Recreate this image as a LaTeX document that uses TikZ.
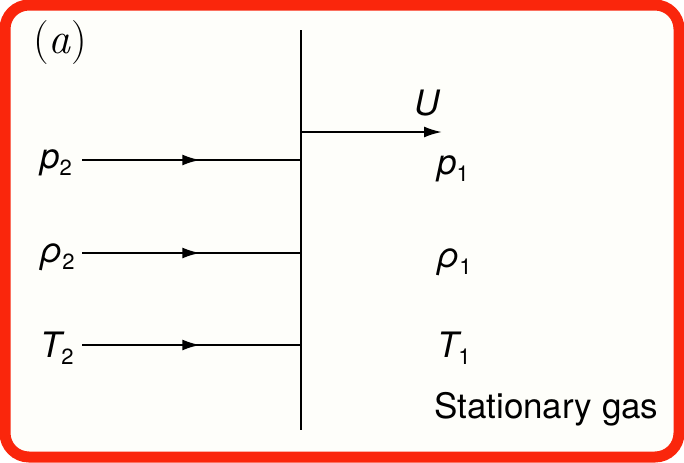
\documentclass[tikz,border=0pt]{standalone}
\usepackage{fontspec}
\setsansfont{TeX Gyre Heros}
\usetikzlibrary{arrows.meta,decorations.markings}
\definecolor{frame}{RGB}{250,38,12}
\definecolor{paper}{RGB}{254,254,250}
\newcommand{\lowsub}[1]{\raisebox{-0.22em}{\fontsize{11}{12}\selectfont\upshape #1}}
\begin{document}
\begin{tikzpicture}[x=0.5pt,y=-0.5pt,
  line width=1.1pt,
  tip/.style={-{Latex[length=9pt,width=5.5pt]}},
  sym/.style={anchor=base west, inner sep=0pt,
    font=\sffamily\fontsize{17.5}{21}\selectfont\itshape},
  plain/.style={anchor=base west, inner sep=0pt,
    font=\sffamily\fontsize{17.5}{21}\selectfont},
  flow/.style={postaction={decorate},
    decoration={markings,
      mark=at position 0.54 with {\arrow{Latex[length=9pt,width=5.5pt]}}}}]
  \useasboundingbox (0,0) rectangle (684,462);
  \fill[paper, rounded corners=12] (5,5) rectangle (679,457);
  \draw[frame, line width=5.5pt, rounded corners=12] (5,5) rectangle (679,457);

  \node[anchor=base west, inner sep=0pt, font=\fontsize{22}{26}\selectfont]
    (tag) at (32,53) {(\textit{a})};

  \coordinate (wtop) at (301,30);
  \coordinate (wbot) at (301,430);
  \draw (wtop) -- (wbot);

  \coordinate (w0) at (301,132);
  \coordinate (uend) at (442,132);
  \draw[tip] (w0) -- (uend);
  \node[sym] (U) at (413,115) {U};

  \foreach \y/\n in {160/1, 253/2, 345/3} {
    \coordinate (in\n) at (82,\y);
    \coordinate (w\n) at (301,\y);
    \draw[flow] (in\n) -- (w\n);
  }

  \node[sym] (p2) at (39,168) {p\lowsub{2}};
  \node[sym] (rho2) at (39,262) {ρ\lowsub{2}};
  \node[sym] (T2) at (39,357) {T\lowsub{2}};

  \node[sym] (p1) at (436,174) {p\lowsub{1}};
  \node[sym] (rho1) at (436,267) {ρ\lowsub{1}};
  \node[sym] (T1) at (436,357) {T\lowsub{1}};
  \node[plain] (gas) at (433,418) {Stationary gas};
\end{tikzpicture}
\end{document}
